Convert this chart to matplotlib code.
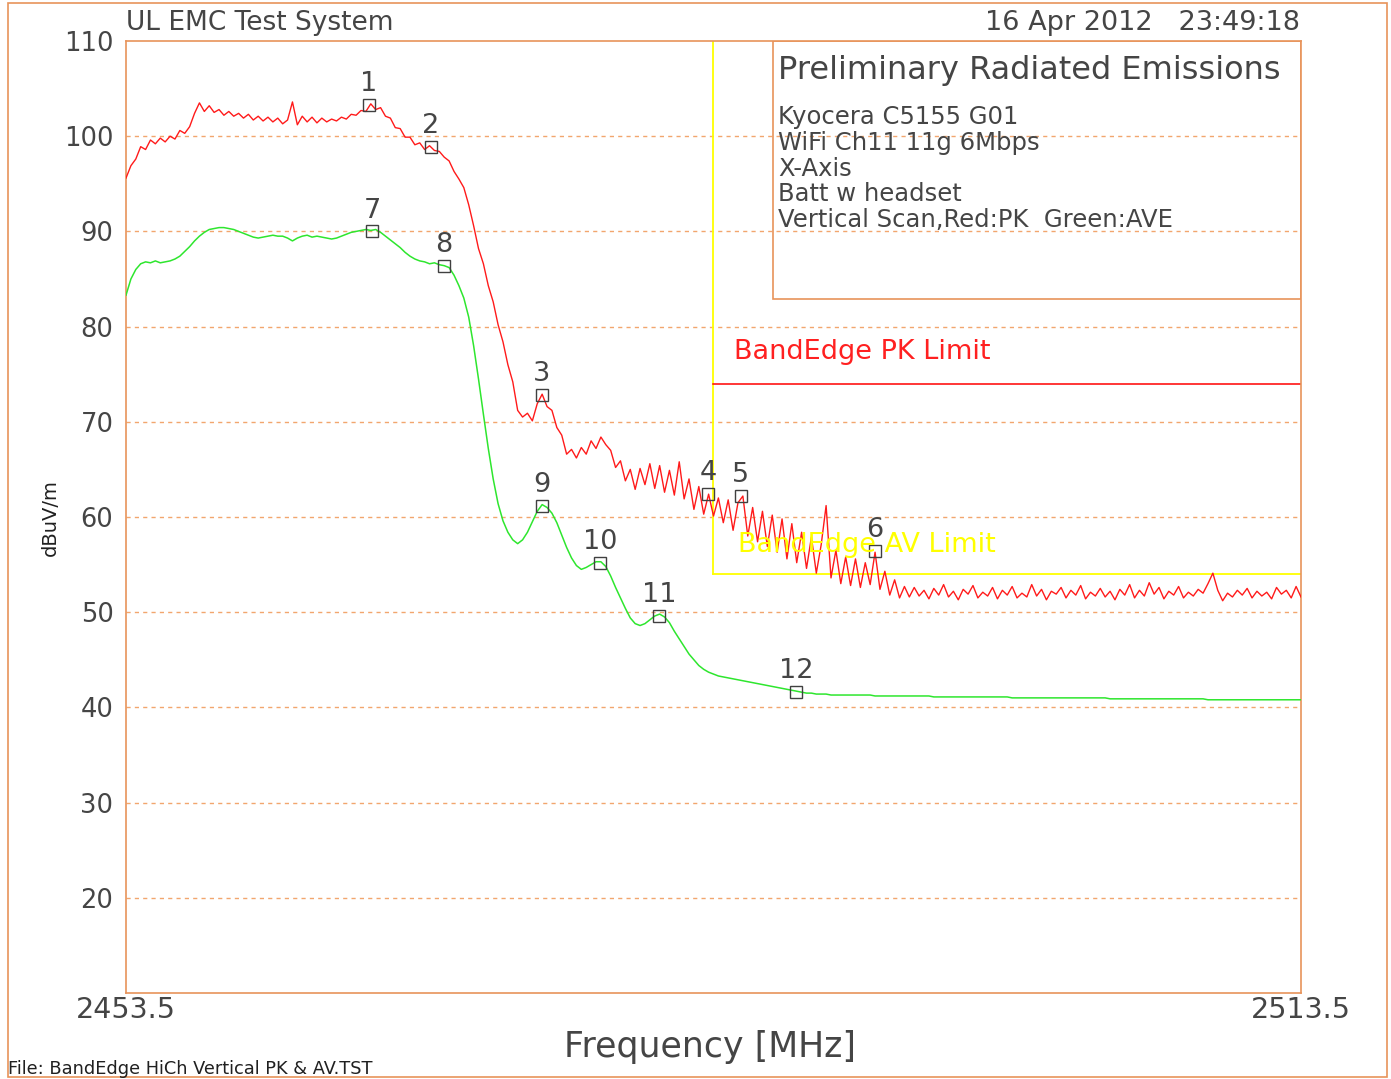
import numpy as np
import matplotlib
matplotlib.use('Agg')
import matplotlib.pyplot as plt
from matplotlib.patches import Rectangle

# ---- data ----
f_start = 2453.5
f_stop = 2513.5
step = 0.25
freq = np.arange(0, 241) * step + f_start

# peak trace (red), one value every 0.25 MHz
peak = [
    95.6, 96.9, 97.6, 98.9, 98.6, 99.6, 99.2, 99.8, 99.4, 100.0,
    99.7, 100.6, 100.3, 101.0, 102.4, 103.5, 102.6, 103.2, 102.5, 102.8,
    102.2, 102.6, 102.1, 102.4, 101.9, 102.3, 101.7, 102.1, 101.6, 102.0,
    101.5, 101.9, 101.3, 101.7, 103.6, 101.2, 102.1, 101.5, 102.0, 101.4,
    101.9, 101.5, 101.8, 101.6, 102.0, 101.8, 102.3, 102.2, 102.7, 102.6,
    103.4, 102.8, 103.0, 102.1, 101.9, 100.9, 100.8, 99.9, 99.9, 99.1,
    99.3, 98.6, 99.0, 98.5, 98.4, 97.8, 97.4, 96.3, 95.5, 94.6,
    92.8, 90.6, 88.2, 86.6, 84.3, 82.6, 80.2, 78.4, 76.0, 74.2,
    71.2, 70.5, 70.9, 70.1, 71.9, 72.9, 71.6, 71.2, 69.4, 68.6,
    66.6, 67.1, 66.2, 67.3, 66.6, 68.0, 67.2, 68.4, 67.6, 67.0,
    65.2, 65.9, 63.8, 65.0, 62.9, 65.1, 63.4, 65.6, 63.0, 65.4,
    62.6, 64.9, 62.3, 65.8, 61.9, 64.0, 60.8, 63.2, 60.3, 62.4,
    60.1, 62.0, 59.4, 61.8, 58.6, 61.5, 62.2, 58.0, 61.0, 57.4,
    60.6, 56.9, 60.2, 56.3, 59.8, 55.6, 59.3, 55.2, 58.4, 54.6,
    57.9, 54.1, 57.1, 61.2, 53.6, 56.5, 53.0, 55.8, 52.8, 55.6,
    52.6, 55.2, 52.9, 56.3, 52.4, 54.3, 51.8, 53.4, 51.5, 52.7,
    51.6, 52.6, 51.7, 52.3, 51.4, 52.5, 51.8, 52.9, 51.6, 52.2,
    51.3, 52.4, 51.9, 52.8, 51.5, 52.1, 51.7, 52.6, 51.4, 52.3,
    51.8, 52.7, 51.5, 52.0, 51.6, 52.9, 51.7, 52.4, 51.3, 52.2,
    51.9, 52.6, 51.5, 52.3, 51.8, 52.8, 51.4, 52.1, 51.7, 52.5,
    51.6, 52.2, 51.3, 52.4, 51.8, 52.9, 51.5, 52.3, 51.7, 53.1,
    51.9, 52.6, 51.4, 52.2, 51.8, 52.7, 51.5, 52.1, 51.7, 52.4,
    52.0, 53.0, 54.1, 52.3, 51.2, 52.0, 51.6, 52.3, 51.8, 52.5,
    51.5, 52.2, 51.7, 52.1, 51.4, 52.6, 51.9, 52.3, 51.5, 52.7,
    51.6,
]

# average trace (green), same frequency points
average = [
    83.3, 85.0, 86.0, 86.6, 86.8, 86.7, 86.9, 86.7, 86.8, 86.9,
    87.1, 87.4, 87.9, 88.4, 89.0, 89.5, 89.9, 90.2, 90.3, 90.4,
    90.4, 90.3, 90.2, 90.0, 89.8, 89.6, 89.4, 89.3, 89.4, 89.5,
    89.6, 89.5, 89.5, 89.3, 89.0, 89.3, 89.5, 89.6, 89.4, 89.5,
    89.4, 89.3, 89.2, 89.3, 89.5, 89.7, 89.9, 90.0, 90.1, 90.2,
    90.1, 90.2, 89.9, 89.5, 89.1, 88.7, 88.3, 87.8, 87.4, 87.1,
    86.9, 86.8, 86.6, 86.7, 86.5, 86.4, 86.2, 85.4, 84.3, 83.0,
    81.0, 78.0, 74.5, 70.8, 67.2, 64.0, 61.4, 59.6, 58.4, 57.6,
    57.2, 57.6, 58.4, 59.5, 60.6, 61.3, 61.0, 60.4, 59.4, 58.1,
    56.8, 55.7, 54.9, 54.5, 54.7, 55.0, 55.3, 55.3, 54.8, 53.8,
    52.6, 51.5, 50.4, 49.4, 48.8, 48.6, 48.8, 49.2, 49.6, 49.8,
    49.5, 48.9, 48.0, 47.2, 46.4, 45.6, 45.0, 44.4, 44.0, 43.7,
    43.5, 43.3, 43.2, 43.1, 43.0, 42.9, 42.8, 42.7, 42.6, 42.5,
    42.4, 42.3, 42.2, 42.1, 42.0, 41.9, 41.8, 41.7, 41.6, 41.5,
    41.5, 41.4, 41.4, 41.4, 41.3, 41.3, 41.3, 41.3, 41.3, 41.3,
    41.3, 41.3, 41.3, 41.2, 41.2, 41.2, 41.2, 41.2, 41.2, 41.2,
    41.2, 41.2, 41.2, 41.2, 41.2, 41.1, 41.1, 41.1, 41.1, 41.1,
    41.1, 41.1, 41.1, 41.1, 41.1, 41.1, 41.1, 41.1, 41.1, 41.1,
    41.1, 41.0, 41.0, 41.0, 41.0, 41.0, 41.0, 41.0, 41.0, 41.0,
    41.0, 41.0, 41.0, 41.0, 41.0, 41.0, 41.0, 41.0, 41.0, 41.0,
    41.0, 40.9, 40.9, 40.9, 40.9, 40.9, 40.9, 40.9, 40.9, 40.9,
    40.9, 40.9, 40.9, 40.9, 40.9, 40.9, 40.9, 40.9, 40.9, 40.9,
    40.9, 40.8, 40.8, 40.8, 40.8, 40.8, 40.8, 40.8, 40.8, 40.8,
    40.8, 40.8, 40.8, 40.8, 40.8, 40.8, 40.8, 40.8, 40.8, 40.8,
    40.8,
]

# markers
marker_id = ['1', '2', '3', '4', '5', '6', '7', '8', '9', '10', '11', '12']
marker_freq = [2465.91, 2469.07, 2474.74, 2483.22, 2484.90, 2491.75,
               2466.06, 2469.74, 2474.74, 2477.70, 2480.72, 2487.71]
marker_level = [103.3, 98.9, 72.8, 62.4, 62.2, 56.4,
                90.0, 86.4, 61.2, 55.2, 49.6, 41.6]

band_edge = 2483.5
pk_limit = 74.0
av_limit = 54.0

y_ticks = [20, 30, 40, 50, 60, 70, 80, 90, 100, 110]
x_tick_labels = ['2453.5', '2513.5']

info_lines = ['Kyocera C5155 G01', 'WiFi Ch11 11g 6Mbps', 'X-Axis',
              'Batt w headset', 'Vertical Scan,Red:PK  Green:AVE']

# ---- style ----
plt.rcParams['font.family'] = ['DejaVu Sans']
txt = '#454545'
orange = '#e8935a'
grid_c = '#f2a66e'
W, H = 1391, 1079

fig = plt.figure(figsize=(W / 100, H / 100), dpi=100)
ax = fig.add_axes([126 / W, 1 - 993 / H, 1175 / W, 952 / H])
ax.set_xlim(f_start, f_stop)
ax.set_ylim(10, 110)

for s in ax.spines.values():
    s.set_color(orange)
    s.set_linewidth(1.2)

ax.set_yticks(y_ticks)
ax.set_yticklabels([str(t) for t in y_ticks], fontsize=18.5, color=txt)
ax.set_xticks([f_start, f_stop])
ax.set_xticklabels(x_tick_labels, fontsize=20.5, color=txt)
ax.tick_params(length=0)
ax.tick_params(axis='y', pad=9)
ax.tick_params(axis='x', pad=2)
for t in y_ticks[:-1]:
    ax.axhline(t, color=grid_c, lw=1, ls=(0, (3, 3)), zorder=1)

# limits
ax.plot([band_edge, band_edge], [110, av_limit], color='#ffff00', lw=1.3, zorder=2)
ax.plot([band_edge, f_stop], [av_limit, av_limit], color='#ffff00', lw=1.3, zorder=2)
ax.plot([band_edge, f_stop], [pk_limit, pk_limit], color='#ff0000', lw=1.1, zorder=2)

# info box
ax.add_patch(Rectangle((0.5506, 0.729), 0.4494, 0.271, transform=ax.transAxes,
                       fill=False, ec=orange, lw=1.2, zorder=2))

ax.plot(freq, average, color='#2ee62e', lw=1.1, zorder=3)
ax.plot(freq, peak, color='#ff1a1a', lw=1.0, zorder=4)

ax.plot(marker_freq, marker_level, ls='none', marker='s', ms=8.5, mfc='none',
        mec='#404040', mew=1.0, zorder=5)
for mid, mf, ml in zip(marker_id, marker_freq, marker_level):
    ax.annotate(mid, (mf, ml), xytext=(0, 15), textcoords='offset points',
                ha='center', va='center', fontsize=19.5, color=txt, zorder=6)

# text in the plot
fig.text(734 / W, 1 - 352 / H, 'BandEdge PK Limit', fontsize=19.5, color='#ff2020',
         va='center')
fig.text(738 / W, 1 - 545 / H, 'BandEdge AV Limit', fontsize=19.5, color='#ffff00',
         va='center')
fig.text(778 / W, 1 - 70 / H, 'Preliminary Radiated Emissions', fontsize=23,
         color=txt, va='center')
for i, line in enumerate(info_lines):
    fig.text(778 / W, 1 - (117 + 25.8 * i) / H, line, fontsize=17.5, color=txt,
             va='center')

fig.text(126 / W, 1 - 23 / H, 'UL EMC Test System', fontsize=19, color=txt,
         va='center')
fig.text(1300 / W, 1 - 23 / H, '16 Apr 2012   23:49:18', fontsize=19.5, color=txt,
         va='center', ha='right')
fig.text(710 / W, 1 - 1047 / H, 'Frequency [MHz]', fontsize=25, color=txt,
         va='center', ha='center')
fig.text(50 / W, 1 - 518 / H, 'dBuV/m', fontsize=14, color='#202020', rotation=90,
         va='center', ha='center')
fig.text(8 / W, 1 - 1069 / H, 'File: BandEdge HiCh Vertical PK & AV.TST',
         fontsize=12.8, color='#202020', va='center')

# outer frame
fig.add_artist(Rectangle((8 / W, 1 - 1077 / H), 1379 / W, 1074 / H,
                         transform=fig.transFigure, fill=False, ec=orange, lw=1.2))

fig.savefig('out.png', dpi=100)
